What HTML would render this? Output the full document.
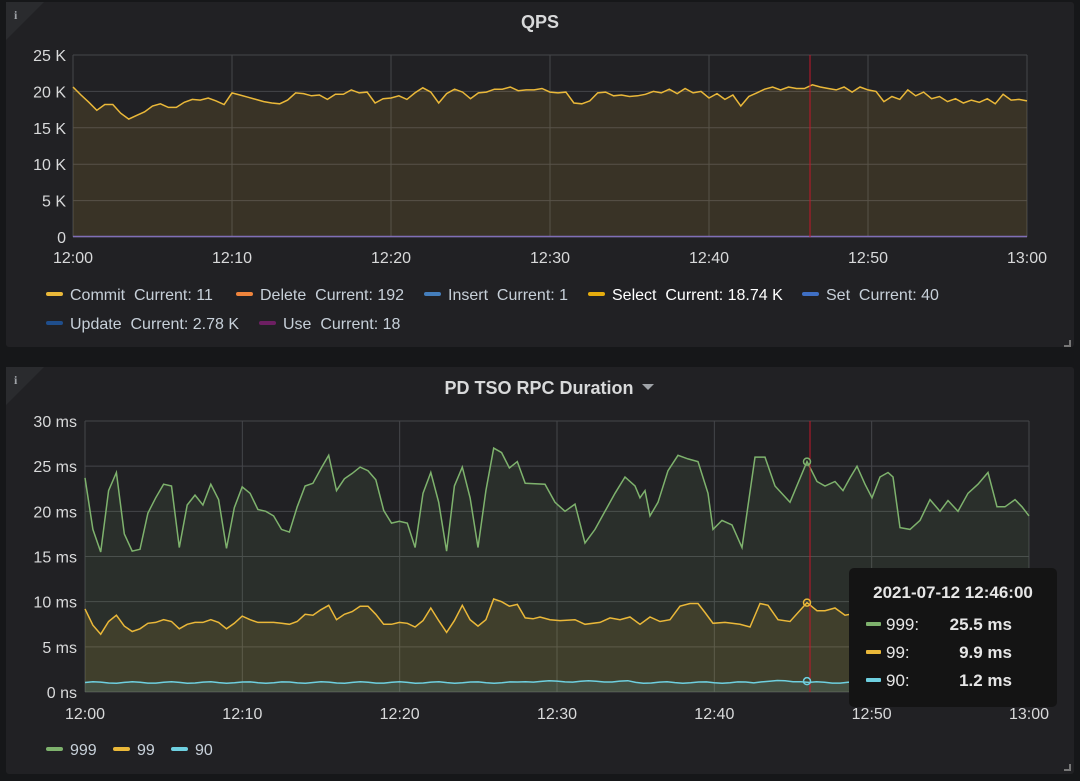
<!DOCTYPE html>
<html><head><meta charset="utf-8"><style>
html,body{margin:0;padding:0;background:#161719;width:1080px;height:781px;overflow:hidden;font-family:"Liberation Sans",sans-serif}
text{white-space:pre}
</style></head><body>
<svg id="s" width="1080" height="781" xmlns="http://www.w3.org/2000/svg" style="position:absolute;left:0;top:0">
<rect x="6" y="2" width="1068" height="345" rx="3" fill="#212124"/>
<rect x="6" y="367" width="1068" height="407" rx="3" fill="#212124"/>
<polygon points="6,2 44,2 6,40" fill="#2a2b2e"/>
<polygon points="6,367 44,367 6,405" fill="#2a2b2e"/>
<text x="14" y="19" fill="#9fa3a8" font-size="12" font-weight="bold" font-family="Liberation Serif">i</text>
<text x="14" y="384" fill="#9fa3a8" font-size="12" font-weight="bold" font-family="Liberation Serif">i</text>
<text x="540" y="28" fill="#d8d9da" font-size="18" font-weight="bold" text-anchor="middle">QPS</text>
<text x="539" y="394" fill="#d8d9da" font-size="18" font-weight="bold" text-anchor="middle">PD TSO RPC Duration</text>
<polygon points="642,384 654,384 648,390" fill="#9fa3a8"/>
<g id="g1"></g><g id="g2"></g>
<path d="M1064,346 h6 v-6" stroke="#777" stroke-width="2" fill="none"/>
<path d="M1064,770 h6 v-6" stroke="#777" stroke-width="2" fill="none"/>
<g font-size="16" fill="#c7d0d9" xml:space="preserve">
<rect x="46" y="292" width="17" height="4" rx="2" fill="#eab839"/><text x="70" y="300">Commit  Current: 11</text>
<rect x="236" y="292" width="17" height="4" rx="2" fill="#ef843c"/><text x="260" y="300">Delete  Current: 192</text>
<rect x="424" y="292" width="17" height="4" rx="2" fill="#447ebc"/><text x="448" y="300">Insert  Current: 1</text>
<rect x="588" y="292" width="17" height="4" rx="2" fill="#e5ac0e"/><text x="612" y="300" fill="#fff">Select  Current: 18.74 K</text>
<rect x="802" y="292" width="17" height="4" rx="2" fill="#3f6fc4"/><text x="826" y="300">Set  Current: 40</text>
<rect x="46" y="321" width="17" height="4" rx="2" fill="#1f4e8c"/><text x="70" y="329">Update  Current: 2.78 K</text>
<rect x="259" y="321" width="17" height="4" rx="2" fill="#6d1f62"/><text x="283" y="329">Use  Current: 18</text>
<rect x="46" y="747" width="17" height="4" rx="2" fill="#7eb26d"/><text x="70" y="755">999</text>
<rect x="113" y="747" width="17" height="4" rx="2" fill="#eab839"/><text x="137" y="755">99</text>
<rect x="171" y="747" width="17" height="4" rx="2" fill="#6ed0e0"/><text x="195" y="755">90</text>
</g>
<g id="tt">
<rect x="849" y="568" width="208" height="139" rx="5" fill="#141414"/>
<text x="953" y="598" fill="#e6e6e6" font-size="17" font-weight="bold" text-anchor="middle">2021-07-12 12:46:00</text>
<g font-size="17" fill="#e6e6e6">
<rect x="866" y="622" width="15" height="4" rx="1" fill="#7eb26d"/><text x="886" y="630">999:</text><text x="1012" y="630" font-weight="bold" text-anchor="end">25.5 ms</text>
<rect x="866" y="650" width="15" height="4" rx="1" fill="#eab839"/><text x="886" y="658">99:</text><text x="1012" y="658" font-weight="bold" text-anchor="end">9.9 ms</text>
<rect x="866" y="678" width="15" height="4" rx="1" fill="#6ed0e0"/><text x="886" y="686">90:</text><text x="1012" y="686" font-weight="bold" text-anchor="end">1.2 ms</text>
</g></g>
</svg>
<script>
var NS="http://www.w3.org/2000/svg";
function el(p,t,a,txt){var e=document.createElementNS(NS,t);for(var k in a)e.setAttribute(k,a[k]);if(txt!=null)e.textContent=txt;p.appendChild(e);return e;}
var g1=document.getElementById('g1'),g2=document.getElementById('g2');
var GC='#45464a';
var X0=73,X1=1027,Y0=237,YT=55;
var labs=['12:00','12:10','12:20','12:30','12:40','12:50','13:00'];
for(var i=0;i<=5;i++){var y=Y0-(Y0-YT)*i/5;el(g1,'line',{x1:X0,x2:X1,y1:y,y2:y,stroke:GC,'stroke-width':1});
el(g1,'text',{x:66,y:y+6,'text-anchor':'end',fill:'#d8d9da','font-size':16},i==0?'0':(i*5)+' K');}
for(var i=0;i<=6;i++){var x=X0+(X1-X0)*i/6;el(g1,'line',{x1:x,x2:x,y1:YT,y2:Y0,stroke:GC});
el(g1,'text',{x:x,y:263,'text-anchor':'middle',fill:'#d8d9da','font-size':16},labs[i]);}
var q=[20.6,19.5,18.5,17.4,18.2,18.2,17.0,16.2,16.7,17.2,18.0,18.3,17.8,17.8,18.5,18.9,18.8,19.1,18.7,18.2,19.8,19.5,19.2,18.9,18.6,18.4,18.3,18.8,19.8,19.7,19.4,19.5,18.9,19.6,19.6,20.2,19.8,19.9,18.4,19.0,19.1,19.4,18.9,19.8,20.5,19.9,18.4,19.7,20.3,19.9,19.0,19.8,19.9,20.3,20.3,20.6,20.1,20.2,20.2,20.4,19.9,19.8,19.9,18.4,18.3,18.7,19.8,19.9,19.4,19.5,19.3,19.4,19.6,20.0,19.8,20.3,19.7,20.4,19.8,20.0,19.1,19.7,18.9,19.5,18.0,19.3,19.8,20.3,20.6,20.2,20.6,20.4,20.4,20.9,20.6,20.4,20.2,20.6,19.9,20.6,20.2,20.0,18.6,19.3,18.9,20.2,19.4,19.9,19.0,19.3,18.6,19.0,18.4,18.8,18.5,19.0,18.3,19.6,18.8,18.9,18.7];
var pts=q.map(function(v,i){return [X0+(X1-X0)*i/(q.length-1),Y0-(Y0-YT)*v/25];});
var d='M'+pts.map(function(p){return p[0].toFixed(1)+','+p[1].toFixed(1)}).join('L');
el(g1,'path',{d:d+'L'+X1+','+Y0+'L'+X0+','+Y0+'Z',fill:'rgba(234,184,57,0.12)'});
el(g1,'path',{d:d,fill:'none',stroke:'#eab839','stroke-width':1.5});
el(g1,'line',{x1:X0,x2:X1,y1:Y0-0.5,y2:Y0-0.5,stroke:'#806eb7','stroke-width':1.5});
el(g1,'line',{x1:810,x2:810,y1:YT,y2:Y0,stroke:'#c4162a','stroke-width':1});
var B0=85,B1=1029,BY0=692,BYT=421;
var ylabs=['0 ns','5 ms','10 ms','15 ms','20 ms','25 ms','30 ms'];
for(var i=0;i<=6;i++){var y=BY0-(BY0-BYT)*i/6;el(g2,'line',{x1:B0,x2:B1,y1:y,y2:y,stroke:GC});
el(g2,'text',{x:77,y:y+6,'text-anchor':'end',fill:'#d8d9da','font-size':16},ylabs[i]);}
for(var i=0;i<=6;i++){var x=B0+(B1-B0)*i/6;el(g2,'line',{x1:x,x2:x,y1:BYT,y2:BY0,stroke:GC});
el(g2,'text',{x:x,y:719,'text-anchor':'middle',fill:'#d8d9da','font-size':16},labs[i]);}
function by(v){return BY0-(BY0-BYT)*v/30;}
var ga=[23.7,18,15.5,22.3,24.3,17.5,15.6,15.8,19.8,21.5,23,22.8,16,20.7,21.8,20.7,23,21.3,15.9,20.4,22.7,22,20.2,20,19.5,18,17.7,20.5,22.8,23.1,24.7,26.2,22.3,23.6,24.2,24.9,24.5,23.5,20.1,18.7,18.9,18.7,16,22,24.3,21,15.6,22.8,24.9,21.5,16,22.3,27,26.5,24.8,25.5,23.1];
var gp=ga.map(function(v,i){return [B0+i*7.86,v];});
var gb=[[545,23],[555,21],[565,20],[575,20.8],[585,16.5],[595,18],[605,20],[615,22],[625,23.8],[635,22.8],[640,21.5],[645,22.3],[650,19.5],[658,21],[668,24.5],[678,26.2],[688,25.8],[698,25.5],[708,22],[713,18],[722,19],[732,18.5],[742,16],[755,26],[765,26],[775,22.8],[790,21],[807,25.5],[817,23.3],[825,22.8],[835,23.3],[843,22.3],[850,23.7],[857,25],[865,23],[872,21.5],[880,23.8],[888,24.3],[893,23.8],[900,18.2],[910,18],[920,19],[930,21.3],[940,20],[948,21.2],[958,20],[968,22],[978,23],[988,24.3],[997,20.5],[1005,20.5],[1015,21.3],[1022,20.5],[1029,19.5]];
gp=gp.concat(gb);
var ya=[9.2,7.4,6.4,7.8,8.5,7.3,6.7,7,7.6,7.7,8,7.8,7,7.5,7.7,7.7,8,7.7,7,7.6,8.4,8,7.7,7.7,7.7,7.6,7.5,7.8,8.6,8.5,9.1,9.6,8,8.6,8.9,9.5,9.5,8.6,7.5,7.5,7.7,7.6,7.2,7.9,9.3,7.9,6.6,7.9,9.6,8,7.3,8,10.3,10,9.5,9.7,8.2,8.1];
var yp=ya.map(function(v,i){return [B0+i*7.86,v];});
yp=yp.concat([[540,8.3],[550,8],[560,7.9],[575,8],[585,7.5],[600,7.7],[610,8.2],[620,8],[630,8.3],[640,7.5],[650,8.3],[660,7.8],[670,8],[680,9.5],[690,9.8],[698,9.8],[705,8.8],[713,7.6],[725,7.7],[740,7.5],[750,7.2],[760,9.8],[768,9.6],[778,8],[790,7.8],[807,9.9],[817,9],[825,9],[835,9.3],[845,8.5],[860,8.8],[880,8.3],[900,8.6],[920,8.2],[940,8.5],[960,8.1],[980,8.6],[1000,8.3],[1029,8.4]]);
var bp=[];for(var i=0;i<=120;i++){var x=B0+(B1-B0)*i/120;var v=1.05+0.08*Math.sin(i*1.3)+(i>55&&i<70?0.12:0)+(i>85&&i<92?0.15:0);bp.push([x,v]);}
function draw(p,c,fa){var d='M'+p.map(function(q){return q[0].toFixed(1)+','+by(q[1]).toFixed(1)}).join('L');
el(g2,'path',{d:d+'L'+p[p.length-1][0]+','+BY0+'L'+p[0][0]+','+BY0+'Z',fill:fa});
return d;}
var dg=draw(gp,'#7eb26d','rgba(126,178,109,0.1)');
var dy=draw(yp,'#eab839','rgba(234,184,57,0.12)');
var db=draw(bp,'#6ed0e0','rgba(110,208,224,0.12)');
el(g2,'path',{d:dg,fill:'none',stroke:'#7eb26d','stroke-width':1.5});
el(g2,'path',{d:dy,fill:'none',stroke:'#eab839','stroke-width':1.5});
el(g2,'path',{d:db,fill:'none',stroke:'#6ed0e0','stroke-width':1.5});
el(g2,'line',{x1:810,x2:810,y1:BYT,y2:BY0,stroke:'#c4162a','stroke-width':1});
el(g2,'circle',{cx:807,cy:by(25.5),r:3.5,fill:'none',stroke:'#7eb26d','stroke-width':1.5});
el(g2,'circle',{cx:807,cy:by(9.9),r:3.5,fill:'none',stroke:'#eab839','stroke-width':1.5});
el(g2,'circle',{cx:807,cy:by(1.2),r:3.5,fill:'none',stroke:'#6ed0e0','stroke-width':1.5});
var tt=document.getElementById('tt');tt.parentNode.appendChild(tt);
</script>
</body></html>
